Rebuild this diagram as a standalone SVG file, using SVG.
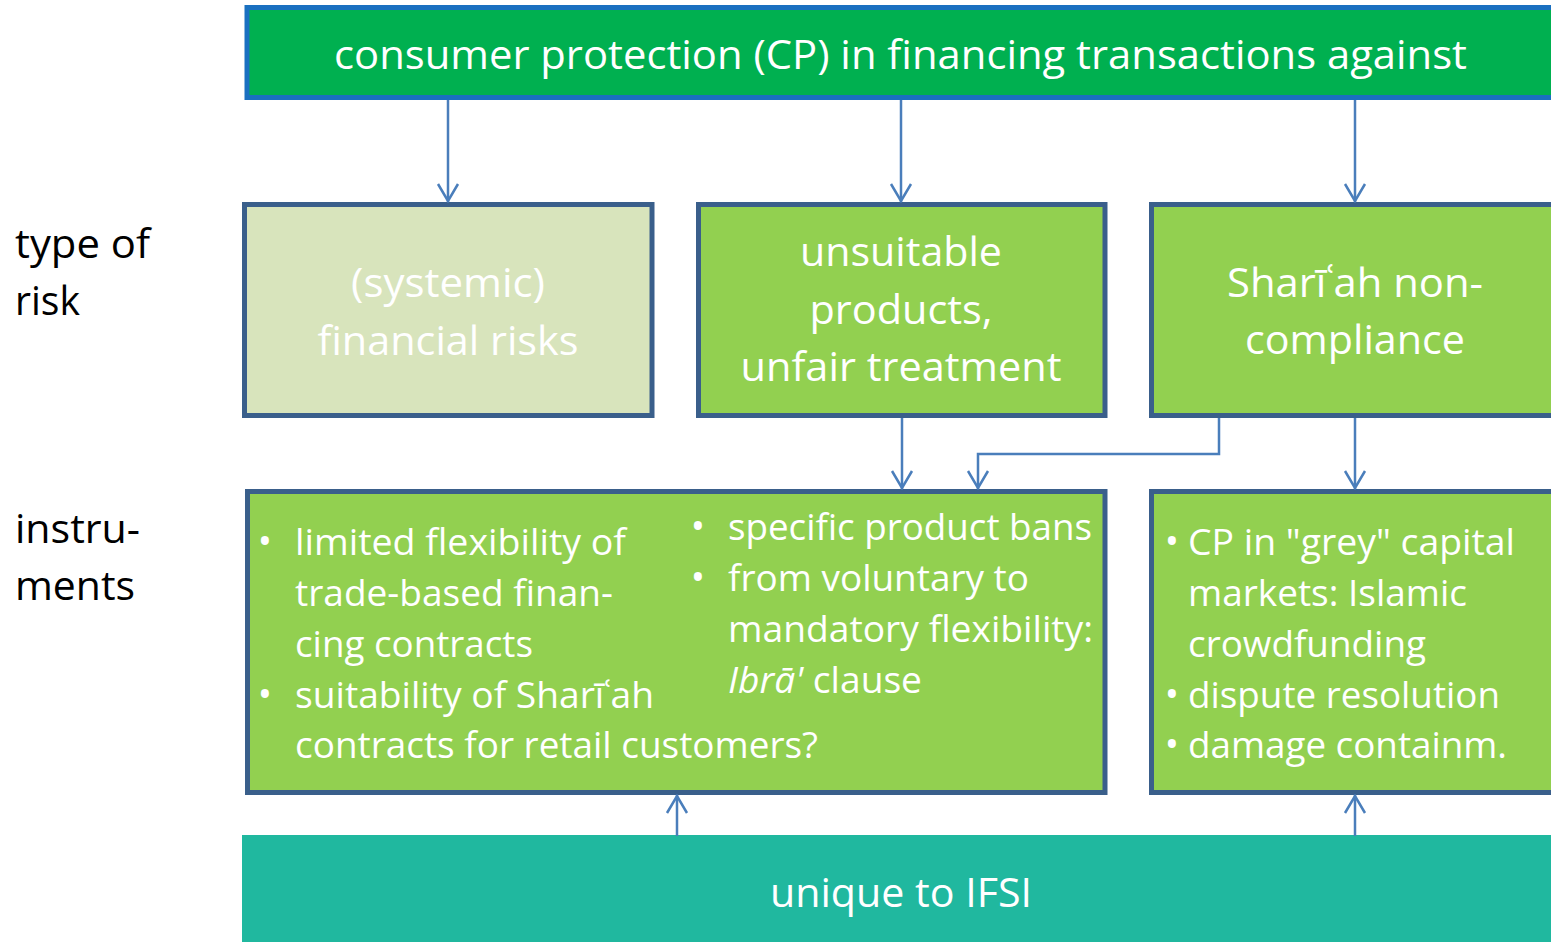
<svg xmlns="http://www.w3.org/2000/svg" width="1551" height="942" viewBox="0 0 1551 942">
<style>
  text { font-family: "Open Sans", "Noto Sans", "Liberation Sans", sans-serif; }
  .w { fill: #ffffff; }
  .h { font-size: 41px; text-anchor: middle; }
  .b { font-size: 37px; }
  .bul { font-size: 38px; text-anchor: middle; }
  .lab { font-size: 41px; fill: #000000; }
  .box { stroke: #3a5f8b; stroke-width: 5; }
  .g { fill: #92d050; }
  .conn { fill: none; stroke: #4a7ebb; stroke-width: 2.5; }
</style>
<defs>
  <marker id="arr" viewBox="0 0 20 24" refX="19" refY="12" markerWidth="20" markerHeight="24" markerUnits="userSpaceOnUse" orient="auto">
    <path d="M1,2 L18,12 L1,22" fill="none" stroke="#4a7ebb" stroke-width="2.5"/>
  </marker>
</defs>
<rect width="1551" height="942" fill="#ffffff"/>

<g id="labels">
  <text class="lab" x="15" y="258" textLength="135" lengthAdjust="spacingAndGlyphs">type of</text>
  <text class="lab" x="15" y="315" textLength="65" lengthAdjust="spacingAndGlyphs">risk</text>
  <text class="lab" x="15" y="543" textLength="125" lengthAdjust="spacingAndGlyphs">instru-</text>
  <text class="lab" x="15" y="600" textLength="120" lengthAdjust="spacingAndGlyphs">ments</text>
</g>

<g id="top">
  <rect x="247" y="7.5" width="1310" height="90" fill="#00b050" stroke="#1a70c0" stroke-width="5"/>
  <text class="w h" x="900.5" y="69" textLength="1133" lengthAdjust="spacingAndGlyphs">consumer protection (CP) in financing transactions against</text>
</g>

<g id="risk-systemic">
  <rect class="box" x="244.5" y="204.5" width="407.5" height="211" fill="#d8e4bc"/>
  <text class="w h" x="448" y="297" textLength="194" lengthAdjust="spacingAndGlyphs">(systemic)</text>
  <text class="w h" x="448" y="355" textLength="261" lengthAdjust="spacingAndGlyphs">financial risks</text>
</g>

<g id="risk-unsuitable">
  <rect class="box g" x="698.5" y="204.5" width="406.5" height="211"/>
  <text class="w h" x="901" y="266" textLength="202" lengthAdjust="spacingAndGlyphs">unsuitable</text>
  <text class="w h" x="901" y="324" textLength="183" lengthAdjust="spacingAndGlyphs">products,</text>
  <text class="w h" x="901" y="381" textLength="321" lengthAdjust="spacingAndGlyphs">unfair treatment</text>
</g>

<g id="risk-sharia">
  <rect class="box g" x="1151.5" y="204.5" width="410" height="211"/>
  <text class="w h" x="1355" y="297" textLength="256" lengthAdjust="spacingAndGlyphs">Sharīʿah non-</text>
  <text class="w h" x="1355" y="354" textLength="220" lengthAdjust="spacingAndGlyphs">compliance</text>
</g>

<g id="instruments-main">
  <rect class="box g" x="247.5" y="491.5" width="857.5" height="301"/>
  <text class="w bul" x="265" y="555">•</text>
  <text class="w b" x="295" y="555" textLength="331" lengthAdjust="spacingAndGlyphs">limited flexibility of</text>
  <text class="w b" x="295" y="606" textLength="318" lengthAdjust="spacingAndGlyphs">trade-based finan-</text>
  <text class="w b" x="295" y="657" textLength="238" lengthAdjust="spacingAndGlyphs">cing contracts</text>
  <text class="w bul" x="265" y="708">•</text>
  <text class="w b" x="295" y="708" textLength="359" lengthAdjust="spacingAndGlyphs">suitability of Sharīʿah</text>
  <text class="w b" x="295" y="758" textLength="523" lengthAdjust="spacingAndGlyphs">contracts for retail customers?</text>
  <text class="w bul" x="698" y="540">•</text>
  <text class="w b" x="728" y="540" textLength="364" lengthAdjust="spacingAndGlyphs">specific product bans</text>
  <text class="w bul" x="698" y="591">•</text>
  <text class="w b" x="728" y="591" textLength="301" lengthAdjust="spacingAndGlyphs">from voluntary to</text>
  <text class="w b" x="728" y="642" textLength="365" lengthAdjust="spacingAndGlyphs">mandatory flexibility:</text>
  <text class="w b" x="728" y="693" textLength="194" lengthAdjust="spacingAndGlyphs"><tspan font-style="italic">Ibrā'</tspan> clause</text>
</g>

<g id="instruments-sharia">
  <rect class="box g" x="1151.5" y="491.5" width="410" height="301"/>
  <text class="w bul" x="1172" y="555">•</text>
  <text class="w b" x="1188" y="555" textLength="327" lengthAdjust="spacingAndGlyphs">CP in "grey" capital</text>
  <text class="w b" x="1188" y="606" textLength="279" lengthAdjust="spacingAndGlyphs">markets: Islamic</text>
  <text class="w b" x="1188" y="657" textLength="238" lengthAdjust="spacingAndGlyphs">crowdfunding</text>
  <text class="w bul" x="1172" y="708">•</text>
  <text class="w b" x="1188" y="708" textLength="312" lengthAdjust="spacingAndGlyphs">dispute resolution</text>
  <text class="w bul" x="1172" y="758">•</text>
  <text class="w b" x="1188" y="758" textLength="319" lengthAdjust="spacingAndGlyphs">damage containm.</text>
</g>

<g id="unique">
  <rect x="242" y="835" width="1309" height="107" fill="#20b89f"/>
  <text class="w h" x="901" y="907" textLength="262" lengthAdjust="spacingAndGlyphs">unique to IFSI</text>
</g>

<g id="connectors">
  <path class="conn" d="M448,100 V202" marker-end="url(#arr)"/>
  <path class="conn" d="M901,100 V202" marker-end="url(#arr)"/>
  <path class="conn" d="M1355,100 V202" marker-end="url(#arr)"/>
  <path class="conn" d="M902,418 V489" marker-end="url(#arr)"/>
  <path class="conn" d="M1219,418 V454 H978 V489" marker-end="url(#arr)"/>
  <path class="conn" d="M1355,418 V489" marker-end="url(#arr)"/>
  <path class="conn" d="M677,836 V795" marker-end="url(#arr)"/>
  <path class="conn" d="M1355,836 V795" marker-end="url(#arr)"/>
</g>
</svg>
